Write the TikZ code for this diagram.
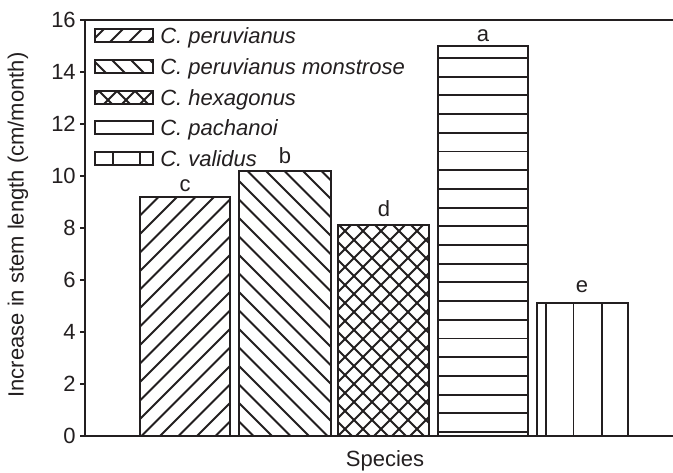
\documentclass[tikz,border=0pt]{standalone}
\usepackage{fontspec}
\setmainfont{Liberation Sans}
\definecolor{ink}{HTML}{231F20}
\begin{document}
\begin{tikzpicture}[x=0.75pt,y=-0.75pt,
  lw/.style={line width=1.5pt, draw=ink},
  hl/.style={line width=1.4pt, draw=ink},
  txt/.style={font=\fontsize{16.5}{19}\selectfont, text=ink, inner sep=0pt},
  leg/.style={txt, font=\fontsize{16.5}{19}\selectfont\itshape, anchor=base west}]
\useasboundingbox (0,0) rectangle (673,473);
\fill[white] (0,0) rectangle (673,473);

% ---------- bars: hatches ----------
% c : forward diagonal
\begin{scope}
\clip (140,197) rectangle (230,436);
\foreach \s in {300,318.5,...,700} \draw[hl] (\s-436,436) -- (\s,0);
\end{scope}
% b : backward diagonal
\begin{scope}
\clip (239,171) rectangle (331,436);
\foreach \d in {-460,-441.5,...,400} \draw[hl] (\d,0) -- (\d+436,436);
\end{scope}
% d : cross hatch
\begin{scope}
\clip (338,225) rectangle (429,436);
\foreach \s in {540,558,...,900} \draw[hl] (\s-436,436) -- (\s,0);
\foreach \d in {-120,-102,...,260} \draw[hl] (\d,0) -- (\d+436,436);
\end{scope}
% a : horizontal
\foreach \k in {0,...,20} \draw[hl] (438,58+18.7*\k) -- (528,58+18.7*\k);
% e : vertical
\foreach \xx in {546,573.5,602} \draw[hl] (\xx,303) -- (\xx,436);

% ---------- bar outlines ----------
\draw[lw] (140,436) rectangle (230,197);
\draw[lw] (239,436) rectangle (331,171);
\draw[lw] (338,436) rectangle (429,225);
\draw[lw] (438,436) rectangle (528,46);
\draw[lw] (537,436) rectangle (628,303);

% ---------- axes ----------
\draw[lw] (80,20) -- (673,20);
\draw[lw] (85,20) -- (85,436);
\draw[lw] (80,436) -- (673,436);
\foreach \v in {2,4,...,14} \draw[lw] (80,436-26*\v) -- (85,436-26*\v);
\foreach \v in {0,2,...,16} \node[txt, anchor=east] (t\v) at (76,436-26*\v) {\v};

% ---------- bar letters ----------
\node[txt, anchor=base] (lc) at (185,192) {c};
\node[txt, anchor=base] (lb) at (285,164) {b};
\node[txt, anchor=base] (ld) at (384,217) {d};
\node[txt, anchor=base] (la) at (483,42) {a};
\node[txt, anchor=base] (le) at (582,292) {e};

% ---------- legend ----------
% box 1
\begin{scope}
\clip (95,29.5) rectangle (153,42.5);
\foreach \s in {0,19,...,400} \draw[hl] (\s-436,436) -- (\s,0);
\end{scope}
\draw[lw] (95,29.5) rectangle (153,42.5);
% box 2
\begin{scope}
\clip (95,60.5) rectangle (153,73.5);
\foreach \d in {-100,-81,...,200} \draw[hl] (\d,0) -- (\d+436,436);
\end{scope}
\draw[lw] (95,60.5) rectangle (153,73.5);
% box 3
\begin{scope}
\clip (95,91) rectangle (153,104);
\foreach \s in {100,118,...,400} \draw[hl] (\s-436,436) -- (\s,0);
\foreach \d in {-100,-82,...,200} \draw[hl] (\d,0) -- (\d+436,436);
\end{scope}
\draw[lw] (95,91) rectangle (153,104);
% box 4
\draw[lw] (95,121.5) rectangle (153,134.5);
% box 5
\foreach \xx in {113,140} \draw[hl] (\xx,152) -- (\xx,165);
\draw[lw] (95,152) rectangle (153,165);

\node[leg] (g1) at (160,44) {C. peruvianus};
\node[leg] (g2) at (160,75) {C. peruvianus monstrose};
\node[leg] (g3) at (160,105.5) {C. hexagonus};
\node[leg] (g4) at (160,136) {C. pachanoi};
\node[leg] (g5) at (160,166.5) {C. validus};

% ---------- axis titles ----------
\node[txt, rotate=90] (ylab) at (18,225) {Increase in stem length (cm/month)};
\node[txt] (xlab) at (385,461) {Species};
\end{tikzpicture}
\end{document}
